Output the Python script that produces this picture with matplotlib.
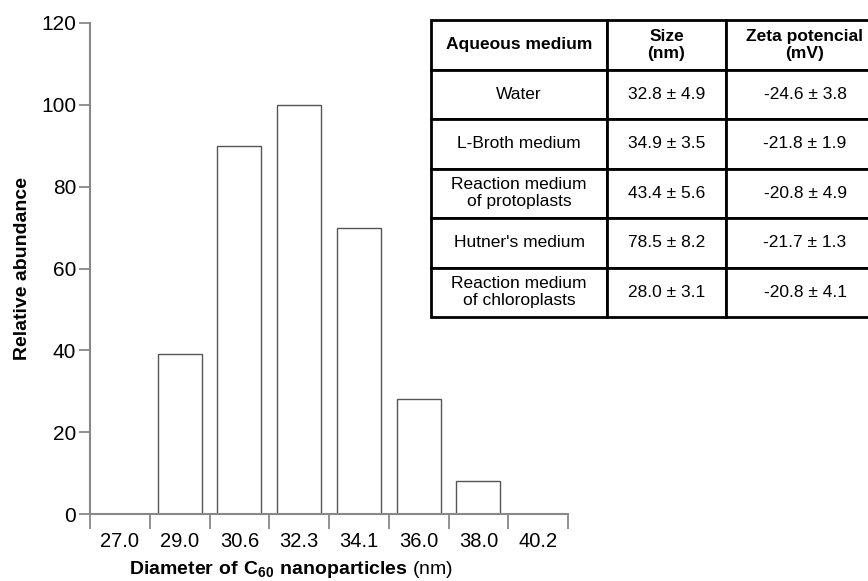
import matplotlib
matplotlib.use("Agg")
import matplotlib.pyplot as plt
import numpy as np

plt.rcParams['font.family'] = ['Liberation Sans', 'DejaVu Sans']
plt.rcParams['mathtext.fontset'] = 'custom'
plt.rcParams['mathtext.rm'] = 'Liberation Sans'
plt.rcParams['mathtext.bf'] = 'Liberation Sans:bold'

# histogram data
diameters = ["27.0", "29.0", "30.6", "32.3", "34.1", "36.0", "38.0", "40.2"]
abundance = [0, 39, 90, 100, 70, 28, 8, 0]

# table data
table_header = ["Aqueous medium", "Size\n(nm)", "Zeta potencial\n(mV)"]
media = ["Water", "L-Broth medium", "Reaction medium\nof protoplasts",
         "Hutner's medium", "Reaction medium\nof chloroplasts"]
sizes = ["32.8 ± 4.9", "34.9 ± 3.5", "43.4 ± 5.6", "78.5 ± 8.2", "28.0 ± 3.1"]
zeta = ["-24.6 ± 3.8", "-21.8 ± 1.9", "-20.8 ± 4.9", "-21.7 ± 1.3", "-20.8 ± 4.1"]

W, H = 868, 581
fig = plt.figure(figsize=(W / 100, H / 100), dpi=100)
ax = fig.add_axes([90 / W, 1 - 514 / H, (568 - 90) / W, (514 - 23) / H])

x = np.arange(len(diameters))
ax.bar(x, abundance, width=0.74, color="white", edgecolor="#555555", linewidth=1.0)

ax.set_xlim(-0.5, len(diameters) - 0.5)
ax.set_ylim(0, 120)
ax.set_yticks(np.arange(0, 121, 20))
ax.set_xticks(x)
ax.set_xticklabels(diameters)
ax.set_xticks(np.arange(-0.5, len(diameters)), minor=True)
ax.tick_params(axis="x", which="major", length=0, labelsize=14.5, pad=13)
ax.tick_params(axis="x", which="minor", length=11, width=1.3, color="#888888")
ax.tick_params(axis="y", length=8, width=1.3, color="#888888", labelsize=15, pad=2)
for side in ["top", "right"]:
    ax.spines[side].set_visible(False)
for side in ["left", "bottom"]:
    ax.spines[side].set_color("#888888")
    ax.spines[side].set_linewidth(1.5)

ax.set_ylabel("Relative abundance", fontsize=14, fontweight="bold", labelpad=7)
fig.text(291 / W, 1 - 569 / H,
         r"$\mathbf{Diameter\ of\ C_{60}\ nanoparticles}$ (nm)",
         ha="center", va="center", fontsize=14)

# table
tax = fig.add_axes([431 / W, 1 - 317 / H, (884 - 431) / W, (317 - 20) / H])
tax.axis("off")
cells = [[m, s, z] for m, s, z in zip(media, sizes, zeta)]
tbl = tax.table(cellText=cells, colLabels=table_header, cellLoc="center",
                colWidths=[176, 119, 158], bbox=[0, 0, 1, 1])
tbl.auto_set_font_size(False)
for (r, c), cell in tbl.get_celld().items():
    cell.set_linewidth(2)
    cell.set_edgecolor("black")
    cell.set_text_props(fontsize=12.5, linespacing=1.15)
    if r == 0:
        cell.set_text_props(fontweight="bold", fontsize=12.5)

fig.savefig("out.png", dpi=100)
